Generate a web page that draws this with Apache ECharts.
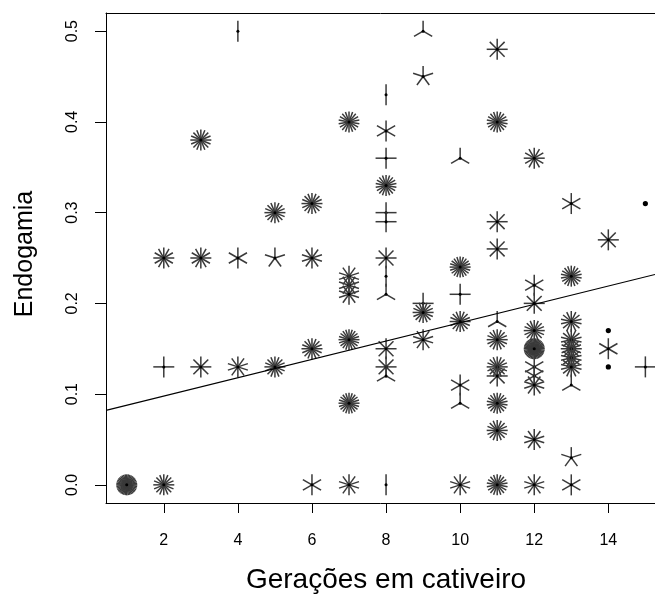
<!DOCTYPE html>
<html>
<head>
<meta charset="utf-8">
<script src="https://cdn.jsdelivr.net/npm/echarts@6/dist/echarts.min.js"></script>
<style>
  html, body { margin: 0; padding: 0; background: #fff; }
  #main { width: 655px; height: 601px; }
</style>
</head>
<body>
<div id="main"></div>
<script>
// gerações em cativeiro (x), endogamia (y), número de observações no ponto (pétalas)
var geracoes = [
  1,
  2, 2, 2,
  3, 3, 3,
  4, 4, 4,
  5, 5, 5,
  6, 6, 6, 6,
  7, 7, 7, 7, 7, 7, 7,
  8, 8, 8, 8, 8, 8, 8, 8, 8, 8, 8, 8, 8,
  9, 9, 9, 9, 9,
  10, 10, 10, 10, 10, 10, 10,
  11, 11, 11, 11, 11, 11, 11, 11, 11, 11, 11,
  12, 12, 12, 12, 12, 12, 12, 12, 12, 12,
  13, 13, 13, 13, 13, 13, 13, 13, 13, 13,
  14, 14, 14, 14,
  15, 15
];
var endogamia = [
  0.00,
  0.25, 0.13, 0.00,
  0.38, 0.25, 0.13,
  0.50, 0.25, 0.13,
  0.30, 0.25, 0.13,
  0.31, 0.25, 0.15, 0.00,
  0.40, 0.23, 0.22, 0.21, 0.16, 0.09, 0.00,
  0.43, 0.39, 0.36, 0.33, 0.30, 0.29, 0.25, 0.23, 0.21, 0.15, 0.13, 0.12, 0.00,
  0.50, 0.45, 0.20, 0.19, 0.16,
  0.36, 0.24, 0.21, 0.18, 0.11, 0.09, 0.00,
  0.48, 0.40, 0.29, 0.26, 0.18, 0.16, 0.13, 0.12, 0.09, 0.06, 0.00,
  0.36, 0.22, 0.20, 0.17, 0.15, 0.13, 0.12, 0.11, 0.05, 0.00,
  0.31, 0.23, 0.18, 0.16, 0.15, 0.14, 0.13, 0.11, 0.03, 0.00,
  0.27, 0.17, 0.15, 0.13,
  0.31, 0.13
];
var contagem = [
  40,
  12, 4, 16,
  16, 12, 8,
  2, 6, 10,
  16, 5, 16,
  16, 10, 16, 6,
  18, 10, 10, 10, 20, 20, 10,
  2, 6, 4, 18, 4, 4, 8, 2, 3, 8, 8, 3, 2,
  3, 5, 4, 16, 10,
  3, 20, 4, 16, 6, 3, 10,
  8, 18, 8, 8, 3, 16, 16, 8, 18, 16, 18,
  12, 6, 8, 16, 40, 6, 6, 10, 10, 10,
  6, 18, 14, 14, 16, 14, 14, 3, 5, 6,
  8, 1, 6, 1,
  1, 4
];

// reta de regressão
var intercepto = 0.0777;
var inclinacao = 0.0101;

var xTicks = [2, 4, 6, 8, 10, 12, 14];
var yTicks = [0, 0.1, 0.2, 0.3, 0.4, 0.5];

// o painel original é cortado na borda direita
var xMin = 0.44, xMax = 15.26;
var yMin = -0.02, yMax = 0.52;

var pontos = geracoes.map(function (g, i) {
  return [g, endogamia[i], contagem[i]];
});

var PETALA = 10.5;
var FONTE = 'Liberation Sans';

var myChart = echarts.init(document.getElementById('main'));

var option = {
  backgroundColor: '#fff',
  animation: false,
  grid: {
    left: 106,
    top: 13,
    right: 0,
    bottom: 98
  },
  xAxis: [
    {
      type: 'value',
      position: 'bottom',
      min: xMin,
      max: xMax,
      axisLine: { show: true, onZero: false, lineStyle: { color: '#000', width: 1 } },
      splitLine: { show: false },
      axisTick: {
        show: true,
        length: 10,
        customValues: xTicks,
        lineStyle: { color: '#000', width: 1 }
      },
      axisLabel: {
        customValues: xTicks,
        margin: 30,
        color: '#000',
        fontSize: 16,
        fontFamily: FONTE
      }
    },
    {
      // só a linha de cima da caixa
      type: 'value',
      position: 'top',
      min: xMin,
      max: xMax,
      axisLine: { show: true, onZero: false, lineStyle: { color: '#000', width: 1 } },
      splitLine: { show: false },
      axisTick: { show: false },
      axisLabel: { show: false }
    }
  ],
  yAxis: {
    type: 'value',
    min: yMin,
    max: yMax,
    axisLine: { show: true, onZero: false, lineStyle: { color: '#000', width: 1 } },
    splitLine: { show: false },
    axisTick: {
      show: true,
      length: 11,
      customValues: yTicks,
      lineStyle: { color: '#000', width: 1 }
    },
    axisLabel: {
      customValues: yTicks,
      rotate: 90,
      margin: 25,
      color: '#000',
      fontSize: 16,
      fontFamily: FONTE,
      formatter: function (v) { return v.toFixed(1); }
    }
  },
  graphic: [
    {
      type: 'text',
      x: 386,
      y: 580,
      style: {
        text: 'Gerações em cativeiro',
        fill: '#000',
        fontSize: 28,
        fontFamily: FONTE,
        align: 'center',
        verticalAlign: 'middle'
      }
    },
    {
      type: 'text',
      x: 25,
      y: 254,
      rotation: Math.PI / 2,
      style: {
        text: 'Endogamia',
        fill: '#000',
        fontSize: 25,
        fontFamily: FONTE,
        align: 'center',
        verticalAlign: 'middle'
      }
    }
  ],
  series: [
    {
      type: 'custom',
      data: pontos,
      clip: false,
      renderItem: function (params, api) {
        var c = api.coord([api.value(0), api.value(1)]);
        var n = api.value(2);
        var filhos = [];
        if (n > 1) {
          for (var k = 1; k <= n; k++) {
            var a = 2 * Math.PI * k / n;
            filhos.push({
              type: 'line',
              shape: {
                x1: c[0], y1: c[1],
                x2: c[0] + PETALA * Math.sin(a),
                y2: c[1] - PETALA * Math.cos(a)
              },
              style: { stroke: '#3a3a3a', lineWidth: 1.5 }
            });
          }
          filhos.push({
            type: 'circle',
            shape: { cx: c[0], cy: c[1], r: 1.5 },
            style: { fill: '#000' }
          });
        } else {
          filhos.push({
            type: 'circle',
            shape: { cx: c[0], cy: c[1], r: 2.6 },
            style: { fill: '#000' }
          });
        }
        return { type: 'group', children: filhos };
      }
    },
    {
      type: 'line',
      data: [
        [xMin, intercepto + inclinacao * xMin],
        [xMax, intercepto + inclinacao * xMax]
      ],
      symbol: 'none',
      lineStyle: { color: '#000', width: 1.2 },
      z: 3
    }
  ]
};

myChart.setOption(option);
window.addEventListener('resize', function () {
  myChart.resize();
});
</script>
</body>
</html>
